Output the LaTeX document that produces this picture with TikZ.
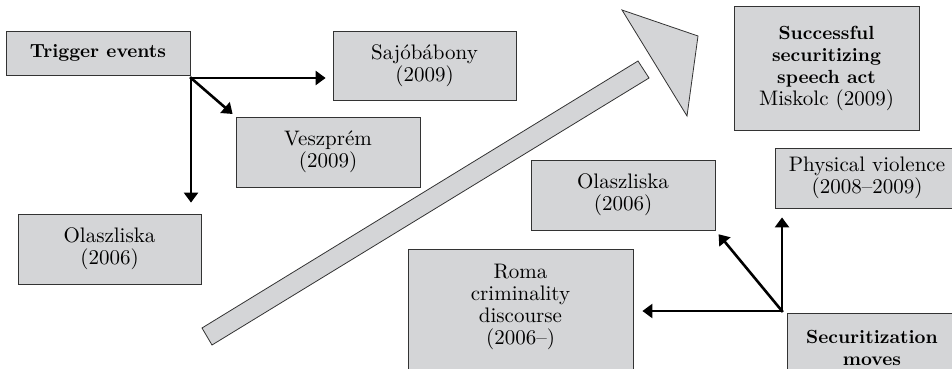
\documentclass[tikz,border=0pt]{standalone}
\usepackage{fontspec}
\setmainfont{lmroman10-regular.otf}[BoldFont=lmroman10-bold.otf]
\usetikzlibrary{arrows.meta}
\definecolor{boxgray}{rgb}{0.83, 0.835, 0.845}
\definecolor{edgegray}{rgb}{0.2, 0.2, 0.2}
\newcommand{\headline}[1]{{\fontsize{19pt}{22pt}\selectfont\bfseries #1}}

\begin{document}
\begin{tikzpicture}[x=1pt, y=-1pt]
    \tikzstyle{event_box} = [draw=edgegray, fill=boxgray, line width=0.8pt, minimum width=184pt, minimum height=70pt, align=center, inner sep=2pt, font=\fontsize{21pt}{22pt}\selectfont]
    \tikzstyle{open_box} = [event_box, anchor=north]
    \tikzstyle{move_arrow} = [-{Triangle[length=10pt, width=14pt]}, line width=2.6pt, line cap=rect, black]
    \tikzstyle{big_arrow} = [draw=edgegray, fill=boxgray, line width=0.8pt]

    \useasboundingbox (0,0) rectangle (952,369);

    \begin{scope}
        \node[event_box, minimum height=44pt] (trigger) at (98,53) {\headline{Trigger events}};
        \node[event_box, minimum width=183pt, minimum height=69pt] (sajo) at (424.5,65.5) {Sajóbábony\\(2009)};
        \node[event_box] (veszprem) at (328,152) {Veszprém\\(2009)};
        \node[event_box, minimum width=183pt] (olasz_left) at (109.5,249) {Olaszliska\\(2006)};

        \coordinate (trigger_split) at (191,78);
        \draw[move_arrow, shorten >=7pt] (trigger_split) -- (trigger_split -| sajo.west);
        \draw[move_arrow, shorten >=4pt] (trigger_split) -- (veszprem.north west);
        \draw[move_arrow, shorten >=11pt] (trigger_split) -- (trigger_split |- olasz_left.north);
    \end{scope}

    \begin{scope}
        \draw[big_arrow] (202,328) -- (212,345) -- (649,78) -- (638,61) -- cycle;
        \draw[big_arrow] (622,10) -- (698,36) -- (687,116) -- cycle;
    \end{scope}

    \begin{scope}
        \node[event_box, minimum width=185pt, minimum height=124pt] (speech_act) at (826.5,68) {\headline{Successful}\\\headline{securitizing}\\\headline{speech act}\\Miskolc (2009)};
        \node[event_box, minimum height=60pt] (physical) at (867,178) {Physical violence\\(2008--2009)};
        \node[event_box] (olasz_right) at (623,195) {Olaszliska\\(2006)};
        \node[open_box, minimum width=225pt, inner ysep=15pt, text depth=40pt] (roma) at (520.5,249) {Roma\\criminality\\discourse\\(2006--)};
        \node[open_box, minimum width=170pt, inner ysep=17pt, text depth=20pt] (sec_moves) at (872,313) {\headline{Securitization}\\\headline{moves}};

        \coordinate (moves_split) at (782,311);
        \draw[move_arrow, shorten >=9pt] (moves_split) -- (moves_split -| roma.east);
        \draw[move_arrow, shorten >=5pt] (moves_split) -- (olasz_right.south east);
        \draw[move_arrow, shorten >=9pt] (moves_split) -- (moves_split |- physical.south);
    \end{scope}
\end{tikzpicture}
\end{document}
